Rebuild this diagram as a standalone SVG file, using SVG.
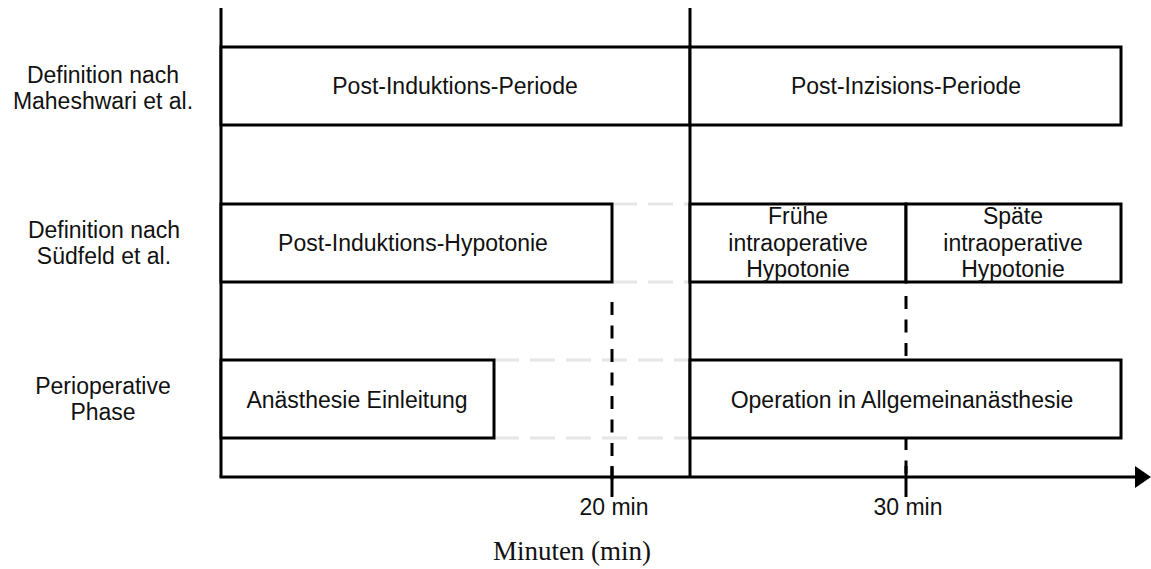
<svg xmlns="http://www.w3.org/2000/svg" width="1151" height="569" viewBox="0 0 1151 569">
<style>
.box{fill:#fff;stroke:#000;stroke-width:3}
.ln{stroke:#000;stroke-width:3;fill:none}
.dash{stroke:#000;stroke-width:3;fill:none;stroke-dasharray:13 10.5}
.ghost{stroke:#e6e6e6;stroke-width:3;fill:none;stroke-dasharray:25 11}
.t{font-family:"Liberation Sans",Arial,sans-serif;font-size:23px;fill:#111;text-anchor:middle}
.s{font-family:"Liberation Serif","Times New Roman",serif;font-size:27px;fill:#111;text-anchor:middle}
</style>
<rect width="1151" height="569" fill="#fff"/>
<g id="connectors">
<line class="ghost" x1="612" y1="204" x2="690" y2="204"/>
<line class="ghost" x1="612" y1="282" x2="690" y2="282"/>
<line class="ghost" x1="494" y1="360" x2="690" y2="360"/>
<line class="ghost" x1="494" y1="438" x2="690" y2="438"/>
<line class="dash" x1="612" y1="302" x2="612" y2="480"/>
<line class="ln" x1="612" y1="466" x2="612" y2="497"/>
<line class="dash" x1="906" y1="296" x2="906" y2="480"/>
<line class="ln" x1="906" y1="466" x2="906" y2="497"/>
<line class="ln" x1="221" y1="8" x2="221" y2="477"/>
<line class="ln" x1="690" y1="8" x2="690" y2="477"/>
<line class="ln" x1="219.5" y1="477" x2="1137" y2="477"/>
<polygon points="1135,466 1151,477 1135,488" fill="#000"/>
</g>
<g id="row-labels">
<text class="t" x="103" y="83">Definition nach</text>
<text class="t" x="103" y="109">Maheshwari et al.</text>
<text class="t" x="104" y="238">Definition nach</text>
<text class="t" x="104" y="264">Südfeld et al.</text>
<text class="t" x="103" y="394">Perioperative</text>
<text class="t" x="103" y="420">Phase</text>
</g>
<g id="post-induktions-periode">
<rect class="box" x="221" y="47" width="469" height="78"/>
<text class="t" x="455" y="94">Post-Induktions-Periode</text>
</g>
<g id="post-inzisions-periode">
<rect class="box" x="690" y="47" width="431" height="78"/>
<text class="t" x="906" y="94">Post-Inzisions-Periode</text>
</g>
<g id="post-induktions-hypotonie">
<rect class="box" x="221" y="204" width="391" height="78"/>
<text class="t" x="413" y="251">Post-Induktions-Hypotonie</text>
</g>
<g id="fruehe-hypotonie">
<rect class="box" x="690" y="204" width="216" height="78"/>
<text class="t" x="798" y="224">Frühe</text>
<text class="t" x="798" y="251">intraoperative</text>
<text class="t" x="798" y="277">Hypotonie</text>
</g>
<g id="spaete-hypotonie">
<rect class="box" x="906" y="204" width="215" height="78"/>
<text class="t" x="1013" y="224">Späte</text>
<text class="t" x="1013" y="251">intraoperative</text>
<text class="t" x="1013" y="277">Hypotonie</text>
</g>
<g id="anaesthesie-einleitung">
<rect class="box" x="221" y="360" width="273" height="78"/>
<text class="t" x="357" y="408">Anästhesie Einleitung</text>
</g>
<g id="operation">
<rect class="box" x="690" y="360" width="431" height="78"/>
<text class="t" x="902" y="408">Operation in Allgemeinanästhesie</text>
</g>
<g id="axis-labels">
<text class="t" x="614" y="515">20 min</text>
<text class="t" x="908" y="515">30 min</text>
<text class="s" x="572" y="560">Minuten (min)</text>
</g>
</svg>
